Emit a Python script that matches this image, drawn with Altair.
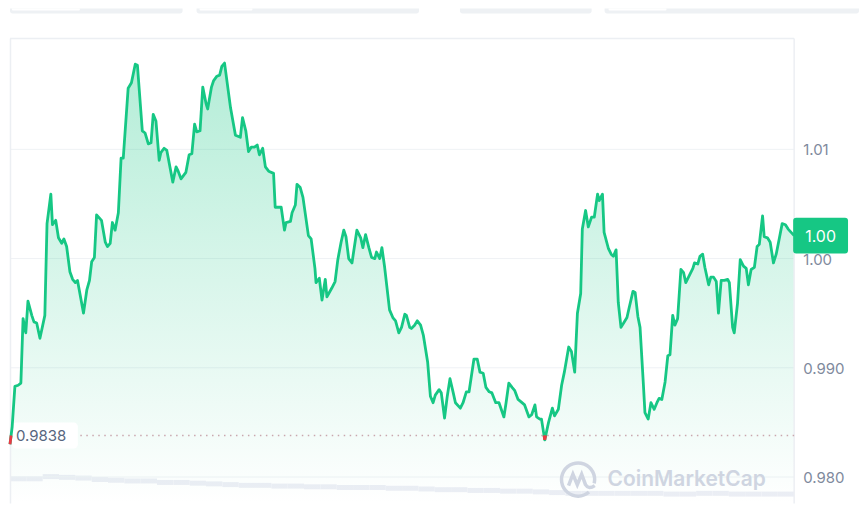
import altair as alt
import pandas as pd

# ---------------- data ----------------
minutes = [
    0, 4, 9, 15, 20, 24, 29, 33, 40, 44,
    49, 55, 64, 68, 75, 78, 84, 89, 95, 99,
    104, 110, 115, 120, 124, 135, 141, 146, 150, 155,
    159, 168, 175, 179, 184, 188, 193, 199, 204, 208,
    217, 223, 230, 234, 243, 248, 254, 259, 263, 268,
    274, 277, 283, 288, 299, 305, 308, 314, 323, 329,
    334, 339, 343, 349, 354, 360, 363, 370, 374, 380,
    385, 389, 394, 405, 414, 423, 427, 433, 438, 443,
    449, 454, 458, 464, 469, 475, 484, 487, 498, 504,
    507, 515, 518, 524, 527, 533, 538, 548, 553, 560,
    562, 568, 573, 579, 582, 591, 597, 602, 608, 613,
    617, 622, 628, 637, 644, 648, 653, 659, 664, 670,
    673, 679, 683, 688, 697, 703, 708, 714, 719, 725,
    728, 734, 737, 743, 748, 754, 759, 767, 772, 777,
    781, 788, 792, 798, 803, 808, 814, 818, 827, 832,
    838, 843, 852, 858, 863, 869, 874, 880, 885, 892,
    898, 907, 911, 916, 922, 927, 933, 938, 945, 953,
    958, 964, 967, 973, 976, 982, 989, 996, 1000, 1007,
    1013, 1018, 1026, 1031, 1037, 1042, 1048, 1051, 1057, 1062,
    1068, 1073, 1079, 1082, 1088, 1091, 1099, 1104, 1108, 1113,
    1117, 1122, 1128, 1133, 1137, 1144, 1148, 1153, 1157, 1163,
    1166, 1172, 1177, 1183, 1188, 1192, 1197, 1203, 1208, 1212,
    1217, 1221, 1226, 1232, 1237, 1241, 1246, 1254, 1257, 1263,
    1267, 1272, 1276, 1283, 1287, 1292, 1297, 1301, 1306, 1312,
    1318, 1321, 1327, 1330, 1336, 1341, 1347, 1352, 1356, 1361,
    1367, 1372, 1376, 1382, 1385, 1391, 1396, 1402, 1407, 1413,
    1418, 1424, 1429, 1440,
]

prices = [
    0.9830, 0.9846, 0.9883, 0.9884, 0.9886, 0.9945, 0.9932, 0.9961, 0.9948, 0.9942,
    0.9941, 0.9927, 0.9948, 1.0032, 1.0059, 1.0031, 1.0035, 1.0019, 1.0014, 1.0018,
    1.0011, 0.9988, 0.9981, 0.9978, 0.9980, 0.9950, 0.9971, 0.9980, 0.9997, 1.0001,
    1.0040, 1.0035, 1.0015, 1.0011, 1.0014, 1.0033, 1.0026, 1.0042, 1.0092, 1.0092,
    1.0156, 1.0161, 1.0178, 1.0177, 1.0117, 1.0115, 1.0105, 1.0106, 1.0132, 1.0126,
    1.0090, 1.0097, 1.0101, 1.0099, 1.0070, 1.0084, 1.0081, 1.0073, 1.0079, 1.0095,
    1.0096, 1.0123, 1.0116, 1.0117, 1.0157, 1.0142, 1.0137, 1.0157, 1.0163, 1.0167,
    1.0168, 1.0176, 1.0179, 1.0138, 1.0113, 1.0111, 1.0129, 1.0117, 1.0098, 1.0102,
    1.0102, 1.0104, 1.0095, 1.0101, 1.0084, 1.0080, 1.0078, 1.0047, 1.0047, 1.0026,
    1.0033, 1.0034, 1.0042, 1.0049, 1.0068, 1.0065, 1.0056, 1.0021, 1.0018, 0.9991,
    0.9978, 0.9982, 0.9962, 0.9981, 0.9965, 0.9973, 0.9979, 0.9999, 1.0015, 1.0026,
    1.0020, 1.0000, 0.9996, 1.0026, 1.0019, 1.0010, 1.0022, 1.0010, 1.0001, 1.0000,
    1.0006, 1.0000, 1.0010, 0.9992, 0.9953, 0.9946, 0.9943, 0.9932, 0.9937, 0.9949,
    0.9948, 0.9937, 0.9936, 0.9939, 0.9943, 0.9939, 0.9930, 0.9905, 0.9874, 0.9868,
    0.9875, 0.9880, 0.9877, 0.9854, 0.9874, 0.9890, 0.9877, 0.9868, 0.9863, 0.9868,
    0.9878, 0.9878, 0.9908, 0.9908, 0.9896, 0.9895, 0.9882, 0.9878, 0.9877, 0.9868,
    0.9868, 0.9855, 0.9868, 0.9886, 0.9882, 0.9879, 0.9871, 0.9869, 0.9866, 0.9855,
    0.9857, 0.9866, 0.9855, 0.9853, 0.9853, 0.9834, 0.9850, 0.9863, 0.9856, 0.9862,
    0.9884, 0.9896, 0.9919, 0.9915, 0.9896, 0.9950, 0.9968, 1.0027, 1.0044, 1.0029,
    1.0038, 1.0038, 1.0059, 1.0053, 1.0059, 1.0024, 1.0009, 1.0004, 1.0002, 1.0008,
    0.9960, 0.9937, 0.9942, 0.9946, 0.9955, 0.9970, 0.9969, 0.9947, 0.9937, 0.9886,
    0.9859, 0.9853, 0.9868, 0.9862, 0.9868, 0.9872, 0.9871, 0.9887, 0.9911, 0.9912,
    0.9948, 0.9939, 0.9945, 0.9990, 0.9987, 0.9978, 0.9983, 0.9991, 0.9996, 0.9995,
    1.0002, 1.0004, 0.9992, 0.9976, 0.9983, 0.9983, 0.9979, 0.9950, 0.9980, 0.9980,
    0.9981, 0.9978, 0.9937, 0.9932, 0.9959, 0.9999, 0.9993, 0.9991, 0.9976, 0.9990,
    0.9992, 1.0011, 1.0013, 1.0039, 1.0020, 1.0019, 1.0015, 0.9996, 1.0004, 1.0019,
    1.0032, 1.0031, 1.0027, 1.0021,
]

open_price = 0.9838

volume_start = list(range(0, 1440, 30))
volumes = [
    81, 81, 90, 87, 84, 78, 75, 72, 72, 66,
    66, 63, 60, 57, 54, 54, 51, 51, 48, 48,
    45, 45, 45, 42, 42, 39, 36, 36, 33, 33,
    30, 30, 27, 24, 21, 21, 21, 21, 21, 21,
    18, 18, 21, 21, 18, 18, 18, 18,
]

y_ticks = [0.98, 0.99, 1.00, 1.01]

# ---------------- styling ----------------
GREEN = "#16c784"
RED = "#ea3943"
FRAME = "#eceff3"
FONT = "Inter"
W, H = 786, 496

price_df = pd.DataFrame({"m": minutes, "price": prices})
vol_df = pd.DataFrame({"t": volume_start, "vol": volumes})
tick_df = pd.DataFrame({"tick": y_ticks})

x_scale = alt.Scale(domain=[0, 1440], nice=False, zero=False)
y_scale = alt.Scale(domain=[0.97758, 1.02289], nice=False, zero=False)


def X(field):
    return alt.X(field, type="quantitative", scale=x_scale, axis=None, title=None)


def Y(field):
    return alt.Y(field, type="quantitative", scale=y_scale, axis=None, title=None, stack=None)


one = alt.Data(values=[{"k": 1}])


def deco_rect(x, x2, y, y2, color, **kw):
    return alt.Chart(one).mark_rect(color=color, **kw).encode(
        x=alt.value(x), x2=alt.value(x2), y=alt.value(y), y2=alt.value(y2)
    )


def deco_rule(x, x2, y, y2, color, width=1.5):
    return alt.Chart(one).mark_rule(color=color, strokeWidth=width).encode(
        x=alt.value(x), x2=alt.value(x2), y=alt.value(y), y2=alt.value(y2)
    )


# volume bars (own y scale)
vol = alt.Chart(vol_df).transform_calculate(t2="datum.t + 30").mark_bar(
    color="#eceef5", opacity=1
).encode(
    x=X("t"),
    x2="t2:Q",
    y=alt.Y("vol:Q", scale=alt.Scale(domain=[0, 2000]), axis=None, title=None),
)

base = alt.Chart(price_df)

# price-axis grid and labels
ticks = alt.Chart(tick_df)
grid = ticks.mark_rule(color="#eff2f5", strokeWidth=1).encode(y=Y("tick"))
tick_labels = ticks.transform_calculate(
    label="datum.tick >= 1 ? format(datum.tick, '.2f') : format(datum.tick, '.3f')"
).mark_text(
    align="left", baseline="middle", font=FONT, fontSize=15, color="#808a9d", dy=1
).encode(x=alt.value(W + 9), y=Y("tick"), text="label:N")

gradient = alt.Gradient(
    gradient="linear",
    stops=[
        alt.GradientStop(color="rgba(22,199,132,0.32)", offset=0),
        alt.GradientStop(color="rgba(22,199,132,0.0)", offset=1),
    ],
    x1=1, x2=1, y1=0, y2=1,
)

area = base.mark_area(color=gradient).encode(
    x=X("m"), y=Y("price"), y2=alt.value(H),
)

line = base.mark_line(color=GREEN, strokeWidth=2.8, strokeJoin="round").encode(
    x=X("m"), y=Y("price"),
)

op = open_price
red = base.transform_window(
    window=[
        alt.WindowFieldDef(op="lead", field="m", **{"as": "m2"}),
        alt.WindowFieldDef(op="lead", field="price", **{"as": "p2"}),
    ],
    sort=[alt.SortField("m")],
).transform_filter(
    f"datum.p2 != null && (datum.price < {op} || datum.p2 < {op})"
).transform_calculate(
    cx=f"datum.m + ({op} - datum.price) / (datum.p2 - datum.price) * (datum.m2 - datum.m)"
).transform_calculate(
    xa=f"datum.price < {op} ? datum.m : datum.cx",
    ya=f"datum.price < {op} ? datum.price : {op}",
    xb=f"datum.p2 < {op} ? datum.m2 : datum.cx",
    yb=f"datum.p2 < {op} ? datum.p2 : {op}",
).mark_rule(color=RED, strokeWidth=2.8).encode(
    x=X("xa"), y=Y("ya"), x2="xb:Q", y2="yb:Q",
)

open_df = alt.Data(values=[{"p": open_price}])
open_rule = alt.Chart(open_df).mark_rule(
    color="#c9a7ae", strokeWidth=1.5, strokeDash=[1.5, 4.5]
).encode(y=Y("p"))
open_box = alt.Chart(open_df).mark_rect(
    color="white", cornerRadius=4, yOffset=-13, y2Offset=13
).encode(
    x=alt.value(2), x2=alt.value(68), y=Y("p"), y2="p:Q",
)
open_label = alt.Chart(open_df).mark_text(
    align="left", baseline="middle", font=FONT, fontSize=15, color="#58667e", dy=1
).encode(
    x=alt.value(6), y=Y("p"), text=alt.Text("p:Q", format=".4f"),
)

# watermark
LOGO = ("M 0.62 0.72 A 0.95 0.95 0 1 1 0.92 0.22 "
        "M -0.55 0.35 L -0.3 -0.3 L -0.05 0.3 L 0.2 -0.3 L 0.42 0.3 Q 0.6 0.6 0.95 0.35")
logo = alt.Chart(one).mark_point(
    shape=LOGO, filled=False, stroke="#cfd5e1", strokeWidth=3.5, size=1225, opacity=1
).encode(x=alt.value(569.5), y=alt.value(472))
wm_text = alt.Chart(one).mark_text(
    text="CoinMarketCap", font=FONT, fontSize=21, fontWeight=600, color="#cfd5e1",
    align="left", baseline="alphabetic",
).encode(x=alt.value(599), y=alt.value(479))

# current price badge
BADGE = ("M -0.89 -0.6545 L 0.89 -0.6545 Q 1 -0.6545 1 -0.5455 L 1 0.5455 "
         "Q 1 0.6545 0.89 0.6545 L -0.89 0.6545 Q -1 0.6545 -1 0.5455 "
         "L -1 -0.5455 Q -1 -0.6545 -0.89 -0.6545 Z")
last_df = alt.Data(values=[{"price": prices[-1]}])
badge = alt.Chart(last_df).mark_point(
    shape=BADGE, filled=True, color=GREEN, size=3025, opacity=1, strokeWidth=0
).encode(x=alt.value(812.5), y=Y("price"))
badge_text = alt.Chart(last_df).mark_text(
    color="white", font=FONT, fontSize=16, align="center", baseline="middle", dy=1
).encode(
    x=alt.value(812.5), y=Y("price"), text=alt.Text("price:Q", format=".2f"),
)

# frame & top tab bar decoration
frames = [
    deco_rule(0, W, 30, 30, FRAME),
    deco_rule(0.5, 0.5, 30, H, FRAME),
    deco_rule(W, W, 30, H, FRAME),
]
pills = [
    deco_rect(0, 173, 0, 5, "#eef1f4", cornerRadiusBottomLeft=5, cornerRadiusBottomRight=5),
    deco_rect(187, 410, 0, 5, "#eef1f4", cornerRadiusBottomLeft=5, cornerRadiusBottomRight=5),
    deco_rect(451, 583, 0, 5, "#eef1f4", cornerRadiusBottomLeft=5, cornerRadiusBottomRight=5),
    deco_rect(596, 851, 0, 5, "#eef1f4", cornerRadiusBottomLeft=5, cornerRadiusBottomRight=5),
    deco_rect(2, 70, 0, 2, "white", cornerRadiusBottomLeft=3, cornerRadiusBottomRight=3),
    deco_rect(190, 243, 0, 2, "white", cornerRadiusBottomLeft=3, cornerRadiusBottomRight=3),
    deco_rect(600, 658, 0, 2, "white", cornerRadiusBottomLeft=3, cornerRadiusBottomRight=3),
]

price_layer = alt.layer(
    grid, tick_labels, area, *frames, logo, wm_text, open_rule, open_box, open_label,
    line, red, badge, badge_text, *pills,
)

chart = (
    alt.layer(vol, price_layer)
    .resolve_scale(y="independent")
    .properties(width=W, height=H, padding=0, background="white")
    .configure_view(strokeWidth=0)
)

chart.save("out.html", embed_options={"renderer": "svg", "actions": False})
